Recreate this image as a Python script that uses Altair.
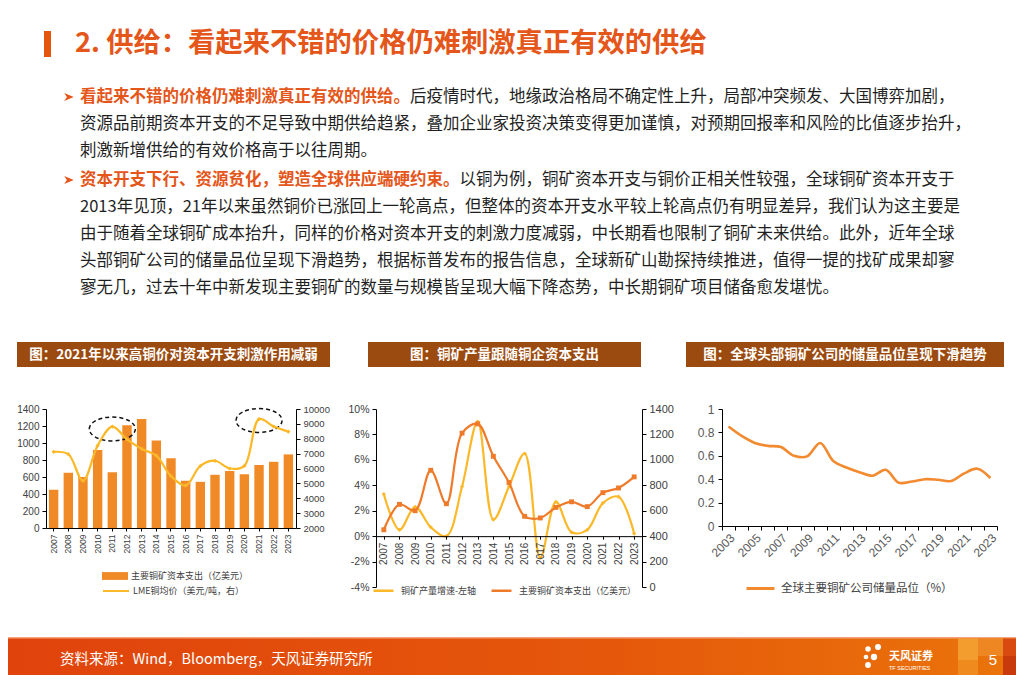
import altair as alt
import pandas as pd

# ---------------- fonts & colours ----------------
CJK = "Noto Sans CJK SC"
NUM = "Liberation Sans"
NARROW = "Liberation Sans Narrow, Liberation Sans"
ACCENT = "#E4561A"
BODY = "#1F1F1F"
BANNER = "#9C4B10"
BAR_C = "#F08A27"
YEL = "#FBB829"
ORG2 = "#EE7A2A"
ORG3 = "#F28A30"
AX_LBL = "#404040"

# ---------------- data ----------------
years = ["2007", "2008", "2009", "2010", "2011", "2012", "2013", "2014", "2015",
         "2016", "2017", "2018", "2019", "2020", "2021", "2022", "2023"]
capex = [450, 650, 600, 918, 655, 1210, 1283, 1028, 822, 556, 543, 626, 670, 632, 742, 779, 866]
lme_price = [7120, 6960, 5170, 7540, 8820, 7960, 7320, 6860, 5490, 4860, 6170, 6520, 6000, 6180, 9320, 8820, 8480]
growth = [0.033, 0.005, 0.023, 0.007, 0.000, 0.039, 0.090, 0.013, 0.039, 0.065, -0.017,
          0.027, 0.003, 0.005, 0.026, 0.031, 0.002]
grade_years = ["2003", "2004", "2005", "2006", "2007", "2008", "2009", "2010", "2011", "2012", "2013",
               "2014", "2015", "2016", "2017", "2018", "2019", "2020", "2021", "2022", "2023"]
grade = [0.85, 0.77, 0.71, 0.685, 0.675, 0.60, 0.595, 0.71, 0.555, 0.50, 0.46,
         0.43, 0.48, 0.37, 0.38, 0.40, 0.395, 0.385, 0.45, 0.49, 0.41]

left_ticks_1 = [0, 200, 400, 600, 800, 1000, 1200, 1400]
right_ticks_1 = [2000, 3000, 4000, 5000, 6000, 7000, 8000, 9000, 10000]
left_ticks_2 = [-0.04, -0.02, 0, 0.02, 0.04, 0.06, 0.08, 0.10]
right_ticks_2 = [0, 200, 400, 600, 800, 1000, 1200, 1400]
ticks_3 = [0, 0.2, 0.4, 0.6, 0.8, 1.0]

ellipse_years = ["2011", "2021"]
ellipse_levels = [1165, 1265]

bar_series = "主要铜矿资本支出（亿美元）"
lme_series = "LME铜均价（美元/吨，右）"
growth_series = "铜矿产量增速-左轴"
capex_series = "主要铜矿资本支出（亿美元）"
grade_series = "全球主要铜矿公司储量品位（%）"

title_text = "2. 供给：看起来不错的价格仍难刺激真正有效的供给"
b1_head = "看起来不错的价格仍难刺激真正有效的供给。"
b1_lines = ["后疫情时代，地缘政治格局不确定性上升，局部冲突频发、大国博弈加剧，",
            "资源品前期资本开支的不足导致中期供给趋紧，叠加企业家投资决策变得更加谨慎，对预期回报率和风险的比值逐步抬升，",
            "刺激新增供给的有效价格高于以往周期。"]
b2_head = "资本开支下行、资源贫化，塑造全球供应端硬约束。"
b2_lines = ["以铜为例，铜矿资本开支与铜价正相关性较强，全球铜矿资本开支于",
            "2013年见顶，21年以来虽然铜价已涨回上一轮高点，但整体的资本开支水平较上轮高点仍有明显差异，我们认为这主要是",
            "由于随着全球铜矿成本抬升，同样的价格对资本开支的刺激力度减弱，中长期看也限制了铜矿未来供给。此外，近年全球",
            "头部铜矿公司的储量品位呈现下滑趋势，根据标普发布的报告信息，全球新矿山勘探持续推进，值得一提的找矿成果却寥",
            "寥无几，过去十年中新发现主要铜矿的数量与规模皆呈现大幅下降态势，中长期铜矿项目储备愈发堪忧。"]
banner_titles = ["图：2021年以来高铜价对资本开支刺激作用减弱",
                 "图：铜矿产量跟随铜企资本支出",
                 "图：全球头部铜矿公司的储量品位呈现下滑趋势"]
source_text = "资料来源：Wind，Bloomberg，天风证券研究所"
logo_text = "天风证券"
logo_sub = "TF SECURITIES"
page_no = "5"


# ---------------- helpers ----------------
def txt(s, x, y, size, color, weight="normal", font=CJK, align="left", baseline="middle"):
    return alt.Chart(pd.DataFrame({"t": [s]})).mark_text(
        align=align, baseline=baseline, fontSize=size, font=font,
        fontWeight=weight, color=color).encode(
        x=alt.value(x), y=alt.value(y), text=alt.Text("t:N"))


def box(x1, x2, y1, y2, fill, opacity=1.0):
    return alt.Chart(pd.DataFrame({"k": [0]})).mark_rect(
        fill=fill, opacity=opacity, strokeWidth=0).encode(
        x=alt.value(x1), x2=alt.value(x2), y=alt.value(y1), y2=alt.value(y2))


def dot(x, y, size, color="white", shape="circle"):
    return alt.Chart(pd.DataFrame({"k": [0]})).mark_point(
        filled=True, shape=shape, size=size, color=color, opacity=1, strokeWidth=0).encode(
        x=alt.value(x), y=alt.value(y))


def axis(**kw):
    base = dict(title=None, grid=False, domainColor="#000000", tickColor="#000000",
                labelColor=AX_LBL, zindex=1, labelOverlap=False)
    base.update(kw)
    return alt.Axis(**base)


# chart-1 plot origin on the page is (46, 409); page coords -> chart-1 coords
OX, OY = 46, 409


def px(x):
    return x - OX


def py(y):
    return y - OY


ARROW = "M-1,-0.85L1,0L-1,0.85L-0.45,0Z"

# ---------------- slide decoration (drawn inside chart 1) ----------------
deco = [box(px(8), px(1016), py(8), py(675), "white")]
deco.append(box(px(44), px(51), py(31), py(57), "#E4560E"))
deco.append(txt(title_text, px(75), py(44), 27.3, ACCENT, weight="bold"))

FS = 16.5
line_y1 = [97, 124, 151]
line_y2 = [180, 207, 234, 261, 288]
deco.append(dot(px(69), py(97), 90, ACCENT, ARROW))
deco.append(dot(px(69), py(180), 90, ACCENT, ARROW))
deco.append(txt(b1_head, px(80), py(97), FS, ACCENT, weight="bold"))
deco.append(txt(b1_lines[0], px(80) + FS * len(b1_head), py(97), FS, BODY))
for s, yy in zip(b1_lines[1:], line_y1[1:]):
    deco.append(txt(s, px(80), py(yy), FS, BODY))
deco.append(txt(b2_head, px(80), py(180), FS, ACCENT, weight="bold"))
deco.append(txt(b2_lines[0], px(80) + FS * len(b2_head), py(180), FS, BODY))
for s, yy in zip(b2_lines[1:], line_y2[1:]):
    deco.append(txt(s, px(80), py(yy), FS, BODY))

# footer
footer_grad = alt.Gradient(gradient="linear", x1=0, x2=1, y1=0, y2=0,
                           stops=[alt.GradientStop(offset=0, color="#E0430C"),
                                  alt.GradientStop(offset=0.6, color="#E5580B"),
                                  alt.GradientStop(offset=1, color="#EA740A")])
deco.append(alt.Chart(pd.DataFrame({"k": [0]})).mark_rect(fill=footer_grad, strokeWidth=0).encode(
    x=alt.value(px(8)), x2=alt.value(px(1016)), y=alt.value(py(637)), y2=alt.value(py(675))))
deco.append(box(px(8), px(1016), py(637), py(638.5), "#F4A47C"))
deco.append(box(px(958), px(978), py(638.5), py(660), "#F4A233", 0.9))
deco.append(box(px(958), px(978), py(660), py(675), "#EE8A1E"))
deco.append(box(px(978), px(1003), py(638.5), py(656), "#EE8622"))
deco.append(box(px(1003), px(1016), py(638.5), py(675), "#D84A10"))
deco.append(box(px(1003), px(1016), py(656), py(675), "#C83A0C"))
deco.append(txt(source_text, px(60), py(660), 14.5, "white"))
for (dx, dy, ds) in [(868, 649, 30), (878, 647, 36), (866, 657, 22), (874, 657, 40), (868, 665, 34)]:
    deco.append(dot(px(dx), py(dy), ds))
deco.append(txt(logo_text, px(889), py(657), 11, "white", weight="bold"))
deco.append(txt(logo_sub, px(889), py(668), 5.5, "white", font=NUM))
deco.append(txt(page_no, px(993), py(660), 15, "white", font=NUM, align="center"))

# ---------------- chart 1 ----------------
W1, H1 = 250, 119
ELLIPSE = "M-1,0A1,0.52,0,1,1,1,0A1,0.52,0,1,1,-1,0Z"
RECT_SYM = "M-1,-0.3L1,-0.3L1,0.3L-1,0.3Z"

df1 = pd.DataFrame({"year": years, "capex": capex, "price": lme_price,
                    "bs": bar_series, "ls": lme_series})
df1e = pd.DataFrame({"year": ellipse_years, "capex": ellipse_levels})

X1 = alt.X("year:N", title=None,
           scale=alt.Scale(type="band", paddingInner=0.36, paddingOuter=0.2),
           axis=axis(labelAngle=-90, labelFont=NARROW, labelFontSize=8.5,
                     tickSize=3, labelPadding=3))
Y1L = alt.Y("capex:Q", title=None, scale=alt.Scale(domain=[0, 1400], nice=False),
            axis=axis(orient="left", values=left_ticks_1, format="d", labelFont=NUM, labelFontSize=10,
                      tickSize=4, labelPadding=3))
Y1R = alt.Y("price:Q", title=None,
            scale=alt.Scale(domain=[2000, 10000], nice=False, zero=False),
            axis=axis(orient="right", values=right_ticks_1, format="d", labelFont=NUM, labelFontSize=9.5,
                      tickSize=4, labelPadding=3))

bars = alt.Chart(df1).mark_bar().encode(
    x=X1, y=Y1L,
    fill=alt.Fill("bs:N", scale=alt.Scale(domain=[bar_series], range=[BAR_C]),
                  legend=alt.Legend(orient="none", legendX=56, legendY=py(576) - 13, title=None,
                                    symbolType=RECT_SYM, symbolSize=676, symbolStrokeWidth=0,
                                    labelFont=CJK, labelFontSize=9, labelColor=AX_LBL,
                                    labelOffset=3, labelLimit=0, padding=0)))
ellipses = alt.Chart(df1e).mark_point(
    shape=ELLIPSE, size=2116, filled=False, stroke="#111111", strokeWidth=1.5,
    strokeDash=[4, 3], opacity=1).encode(x=X1, y=Y1L)
line1 = alt.Chart(df1).mark_line(interpolate="catmull-rom", strokeWidth=2.2).encode(
    x=X1, y=Y1R,
    stroke=alt.Stroke("ls:N", scale=alt.Scale(domain=[lme_series], range=[YEL]),
                      legend=alt.Legend(orient="none", legendX=56, legendY=py(590) - 13, title=None,
                                        symbolType="stroke", symbolSize=676, symbolStrokeWidth=2,
                                        labelFont=CJK, labelFontSize=9, labelColor=AX_LBL,
                                        labelOffset=3, labelLimit=0, padding=0)))
pts1 = alt.Chart(df1).mark_point(shape="diamond", filled=True, size=18, color=YEL, opacity=1).encode(
    x=X1, y=Y1R)

left1 = alt.layer(bars, ellipses)
right1 = alt.layer(line1, pts1)
banner1 = [box(-29, 284, -67, -42, BANNER),
           txt(banner_titles[0], 127.5, -54.5, 13.5, "white", weight="bold", align="center")]

c1 = alt.layer(*deco, *banner1, left1, right1).resolve_scale(y="independent").properties(
    width=W1, height=H1)

# ---------------- chart 2 ----------------
W2, H2 = 266, 178
df2 = pd.DataFrame({"year": years, "growth": growth, "capex": capex,
                    "gs": growth_series, "cs": capex_series})
X2 = alt.X("year:N", title=None, scale=alt.Scale(type="point", padding=0.5),
           axis=axis(offset=-H2 * 4 / 14, labelAngle=-90, labelFont=NARROW, labelFontSize=10,
                     tickSize=3, labelPadding=3))
Y2L = alt.Y("growth:Q", title=None,
            scale=alt.Scale(domain=[-0.04, 0.10], nice=False, zero=False),
            axis=axis(orient="left", values=left_ticks_2, format=".0%", labelFont=NARROW,
                      labelFontSize=10.5, tickSize=4, labelPadding=3,
                      labelExpr="replace(datum.label, '\u2212', '-')"))
Y2R = alt.Y("capex:Q", title=None, scale=alt.Scale(domain=[0, 1400], nice=False),
            axis=axis(orient="right", values=right_ticks_2, format="d", labelFont=NARROW,
                      labelFontSize=11, tickSize=4, labelPadding=3))
S2 = alt.Scale(domain=[growth_series, capex_series], range=[YEL, ORG2])
L2 = alt.Legend(orient="none", legendX=-4, legendY=py(589) - 10, title=None, direction="horizontal",
                symbolType="stroke", symbolSize=400, symbolStrokeWidth=2.5,
                labelFont=CJK, labelFontSize=9, labelColor=AX_LBL, labelOffset=6,
                labelLimit=0, columnPadding=9, padding=0)

line_g = alt.Chart(df2).mark_line(interpolate="catmull-rom", strokeWidth=2.2).encode(
    x=X2, y=Y2L, stroke=alt.Stroke("gs:N", scale=S2, legend=L2))
pts_g = alt.Chart(df2).mark_point(shape="diamond", filled=True, size=18, color=YEL, opacity=1).encode(
    x=X2, y=Y2L)
line_c = alt.Chart(df2).mark_line(interpolate="catmull-rom", strokeWidth=2.2).encode(
    x=X2, y=Y2R, stroke=alt.Stroke("cs:N", scale=S2, legend=L2))
pts_c = alt.Chart(df2).mark_point(shape="square", filled=True, size=24, color=ORG2, opacity=1).encode(
    x=X2, y=Y2R)

banner2 = [box(-8, 265, -67, -42, BANNER),
           txt(banner_titles[1], 128.5, -54.5, 13.5, "white", weight="bold", align="center")]
c2 = alt.layer(*banner2, alt.layer(line_g, pts_g), alt.layer(line_c, pts_c)).resolve_scale(
    y="independent").properties(width=W2, height=H2)

# ---------------- chart 3 ----------------
W3, H3 = 275, 117
df3 = pd.DataFrame({"year": grade_years, "grade": grade, "s": grade_series})
X3 = alt.X("year:N", title=None,
           scale=alt.Scale(type="band", paddingInner=0, paddingOuter=0),
           axis=axis(labelAngle=-45, tickBand="extent", labelFont=NUM, labelFontSize=12,
                     labelColor="#595959", tickSize=4, labelPadding=2,
                     labelExpr="toNumber(datum.value) % 2 == 1 ? datum.label : ''"))
Y3 = alt.Y("grade:Q", title=None, scale=alt.Scale(domain=[0, 1], nice=False),
           axis=axis(orient="left", values=ticks_3, labelFont=NUM, labelFontSize=12,
                     labelColor="#595959", tickSize=4, labelPadding=4,
                     labelExpr="format(datum.value, '.1~f')"))
line3 = alt.Chart(df3).mark_line(interpolate="catmull-rom", strokeWidth=2.6).encode(
    x=X3, y=Y3,
    stroke=alt.Stroke("s:N", scale=alt.Scale(domain=[grade_series], range=[ORG3]),
                      legend=alt.Legend(orient="none", legendX=23, legendY=py(587) - 14, title=None,
                                        symbolType="stroke", symbolSize=784, symbolStrokeWidth=3,
                                        labelFont=CJK, labelFontSize=11.5, labelColor=AX_LBL,
                                        labelOffset=5, labelLimit=0, padding=0)))
banner3 = [box(-36, 282, -67, -42, BANNER),
           txt(banner_titles[2], 123, -54.5, 13.5, "white", weight="bold", align="center")]
c3 = alt.layer(*banner3, line3).properties(width=W3, height=H3)

# ---------------- assemble ----------------
chart = alt.hconcat(c1, c2, c3, spacing=80, bounds="flush").resolve_scale(
    stroke="independent", fill="independent", color="independent").resolve_legend(
    stroke="independent", fill="independent").properties(
    padding=0, background="white").configure_view(stroke=None)

chart.save("out.html", embed_options={"renderer": "svg", "actions": False})
